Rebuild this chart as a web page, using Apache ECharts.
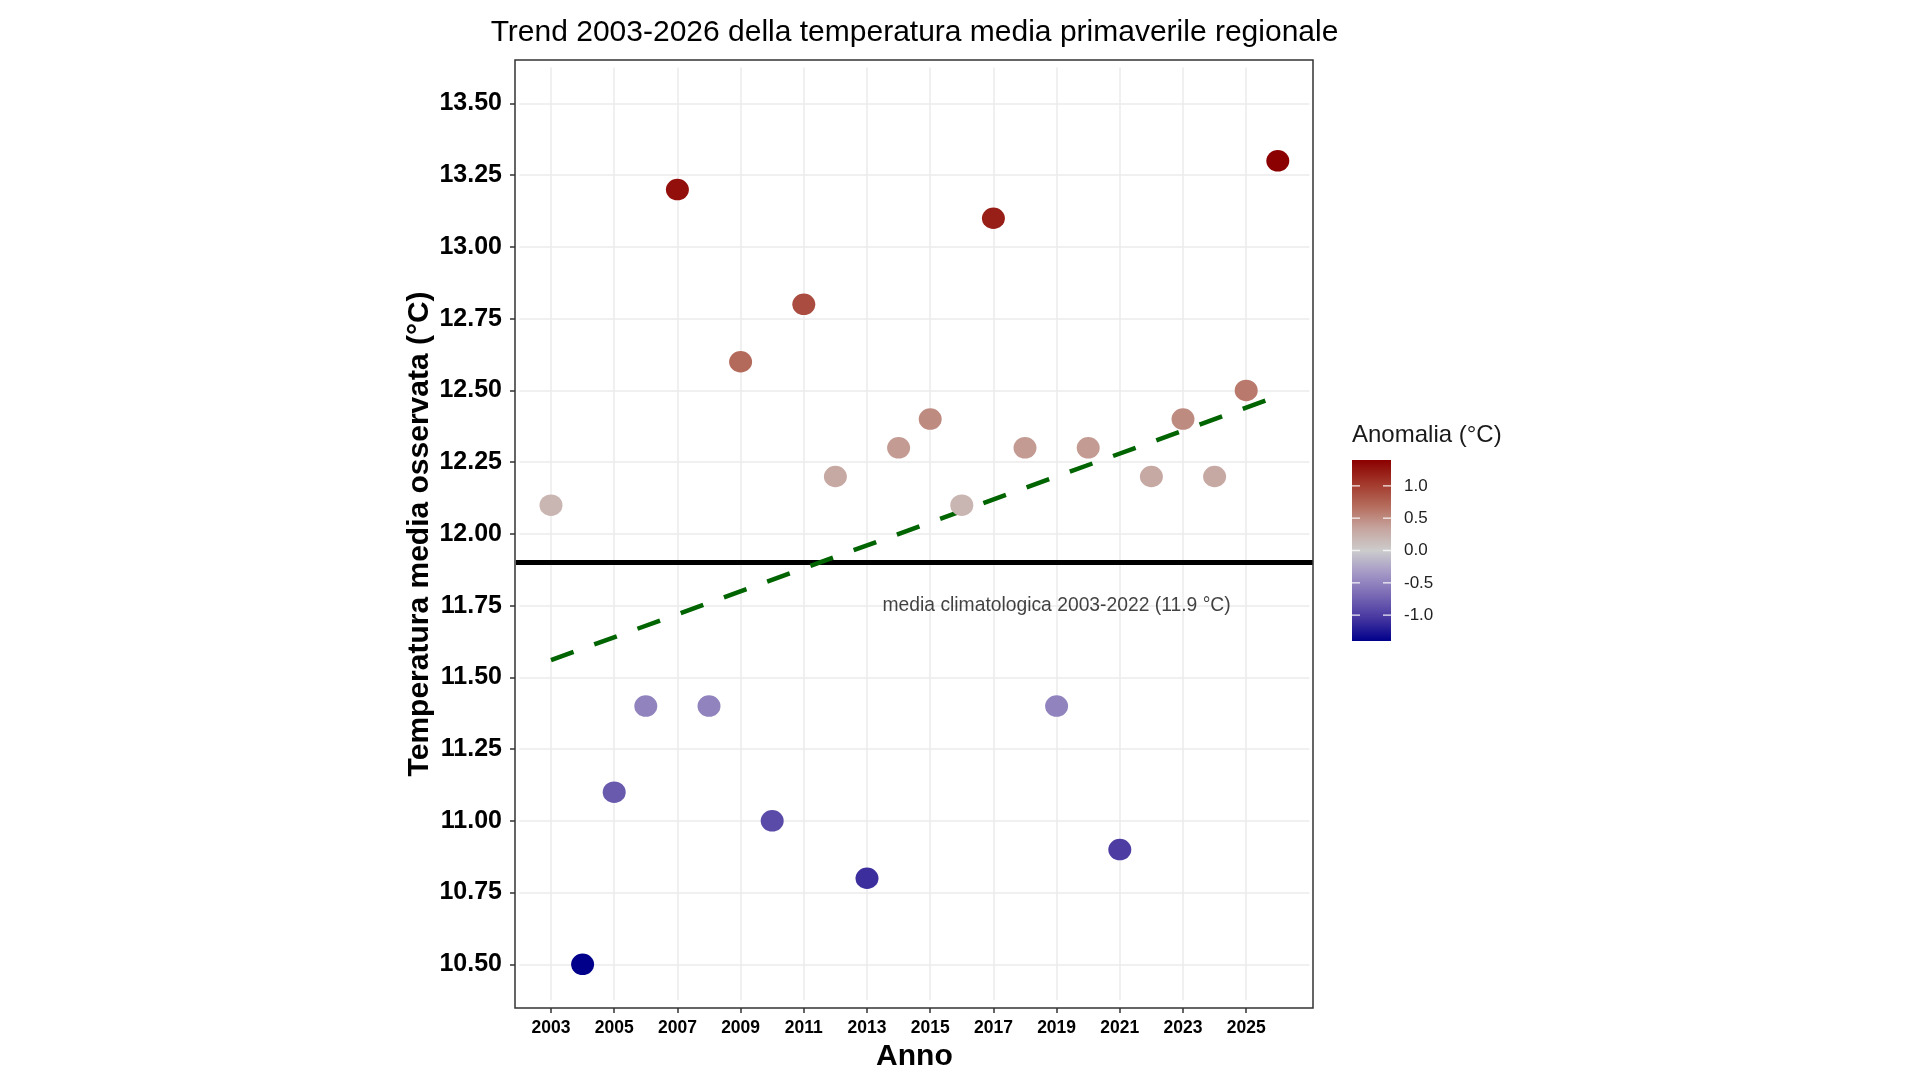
<!DOCTYPE html>
<html>
<head>
<meta charset="utf-8">
<title>Trend temperatura media primaverile regionale</title>
<script src="https://cdn.jsdelivr.net/npm/echarts@6/dist/echarts.min.js"></script>
<style>
  html, body { margin: 0; padding: 0; background: #fff; }
  #chart { width: 1920px; height: 1080px; }
</style>
</head>
<body>
<div id="chart"></div>
<script>
// dati
const anni = [2003, 2004, 2005, 2006, 2007, 2008, 2009, 2010, 2011, 2012, 2013, 2014,
              2015, 2016, 2017, 2018, 2019, 2020, 2021, 2022, 2023, 2024, 2025, 2026];
const tempMedia = [12.1, 10.5, 11.1, 11.4, 13.2, 11.4, 12.6, 11.0, 12.8, 12.2, 10.8, 12.3,
                   12.4, 12.1, 13.1, 12.3, 11.4, 12.3, 10.9, 12.2, 12.4, 12.2, 12.5, 13.3];
const climMedia = 11.9;                 // media climatologica 2003-2022
const trendAnni = [2003, 2026];         // retta di tendenza (estremi)
const trendValori = [11.56, 12.48];
const annoEtichette = [2003, 2005, 2007, 2009, 2011, 2013, 2015, 2017, 2019, 2021, 2023, 2025];
const tempEtichette = [10.5, 10.75, 11.0, 11.25, 11.5, 11.75, 12.0, 12.25, 12.5, 12.75, 13.0, 13.25, 13.5];
const legendaTicks = [1.0, 0.5, 0.0, -0.5, -1.0];
const notaPos = [2019, 11.75];
const notaTesto = 'media climatologica 2003-2022 (11.9 °C)';

const FONT = '"Liberation Sans", Arial, Helvetica, sans-serif';

// scala colori anomalia (da -1.4 a 1.4)
const anomMin = -1.4, anomMax = 1.4;
const coloriAnomalia = ['#00008b', '#4636a0', '#7868b4', '#a498c6', '#cccccc',
                        '#c6a39d', '#b46a5a', '#a2362a', '#8b0000'];

// estremi del pannello (espansione degli assi come in ggplot)
const xPanelMin = 2001.86, xPanelMax = 2027.11;

const punti = anni.map(function (a, i) {
  return [a, tempMedia[i], +(tempMedia[i] - climMedia).toFixed(2)];
});

const chart = echarts.init(document.getElementById('chart'));

// barra colori della legenda
const barX = 1352, barY = 460, barW = 39, barH = 181;
function legendaY(v) {
  return barY + (anomMax - v) / (anomMax - anomMin) * barH;
}
const stops = coloriAnomalia.slice().reverse().map(function (c, i, arr) {
  return { offset: i / (arr.length - 1), color: c };
});
const legenda = [
  {
    type: 'text', left: 1352, top: 423,
    style: { text: 'Anomalia (°C)', font: '24px ' + FONT, fill: '#1a1a1a' }
  },
  {
    type: 'rect', shape: { x: barX, y: barY, width: barW, height: barH },
    style: { fill: { type: 'linear', x: 0, y: 0, x2: 0, y2: 1, colorStops: stops } }
  }
];
legendaTicks.forEach(function (v) {
  const y = legendaY(v);
  legenda.push({
    type: 'line', shape: { x1: barX, y1: y, x2: barX + 8, y2: y },
    style: { stroke: 'rgba(255,255,255,0.75)', lineWidth: 1.5 }, z: 10
  });
  legenda.push({
    type: 'line', shape: { x1: barX + barW - 8, y1: y, x2: barX + barW, y2: y },
    style: { stroke: 'rgba(255,255,255,0.75)', lineWidth: 1.5 }, z: 10
  });
  legenda.push({
    type: 'text', x: 1404, y: y,
    style: { text: v.toFixed(1), font: '17px ' + FONT, fill: '#222', textVerticalAlign: 'middle' }
  });
});

const option = {
  animation: false,
  backgroundColor: '#ffffff',
  grid: { left: 519.4, right: 610.6, top: 67.6, bottom: 79.8 },
  visualMap: {
    show: false,
    type: 'continuous',
    seriesIndex: 0,
    dimension: 2,
    min: anomMin,
    max: anomMax,
    inRange: { color: coloriAnomalia }
  },
  xAxis: {
    type: 'value',
    min: 2002,
    max: 2027,
    interval: 1,
    offset: 7.8,
    name: 'Anno',
    nameLocation: 'middle',
    nameGap: 24,
    nameTextStyle: { fontFamily: FONT, fontSize: 30, fontWeight: 'bold', color: '#000' },
    axisLine: { show: false },
    axisTick: { show: true, length: 5, customValues: annoEtichette, lineStyle: { color: '#333', width: 1.5 } },
    axisLabel: {
      customValues: annoEtichette,
      margin: 11,
      formatter: function (v) { return String(v); },
      fontFamily: FONT, fontSize: 17.5, fontWeight: 'bold', color: '#000'
    },
    splitLine: { show: true, lineStyle: { color: '#ebebeb', width: 1.5 } }
  },
  yAxis: {
    type: 'value',
    min: 10.375,
    max: 13.625,
    interval: 0.125,
    offset: 4.4,
    name: 'Temperatura media osservata (°C)',
    nameLocation: 'middle',
    nameRotate: 90,
    nameGap: 80,
    nameTextStyle: { fontFamily: FONT, fontSize: 30, fontWeight: 'bold', color: '#000' },
    axisLine: { show: false },
    axisTick: { show: true, length: 5, customValues: tempEtichette, lineStyle: { color: '#333', width: 1.5 } },
    axisLabel: {
      customValues: tempEtichette,
      margin: 13,
      formatter: function (v) { return v.toFixed(2); },
      fontFamily: FONT, fontSize: 25, fontWeight: 'bold', color: '#000'
    },
    splitLine: { show: true, lineStyle: { color: '#ebebeb', width: 1.5 } }
  },
  graphic: [
    {
      type: 'text', x: 914.5, y: 33,
      style: {
        text: 'Trend 2003-2026 della temperatura media primaverile regionale',
        font: '30px ' + FONT, fill: '#000', textAlign: 'center', textVerticalAlign: 'middle'
      }
    },
    // bordo del pannello
    {
      type: 'rect', shape: { x: 515, y: 60, width: 798, height: 948 },
      style: { fill: null, stroke: '#333', lineWidth: 1.5 }, z: 100
    }
  ].concat(legenda),
  series: [
    {
      name: 'Temperatura',
      type: 'scatter',
      data: punti,
      symbolSize: [23, 21.5],
      itemStyle: { opacity: 1 },
      z: 5
    },
    {
      name: 'Media climatologica',
      type: 'line',
      data: [[xPanelMin, climMedia], [xPanelMax, climMedia]],
      clip: false,
      symbol: 'none',
      silent: true,
      lineStyle: { color: '#000', width: 5 },
      z: 3
    },
    {
      name: 'Trend',
      type: 'line',
      data: trendAnni.map(function (a, i) { return [a, trendValori[i]]; }),
      symbol: 'none',
      silent: true,
      lineStyle: { color: '#006400', width: 4.5, type: [24, 22] },
      z: 4
    },
    {
      name: 'Nota',
      type: 'scatter',
      data: [notaPos],
      symbolSize: 1,
      silent: true,
      itemStyle: { color: 'transparent' },
      label: {
        show: true,
        position: 'inside',
        formatter: notaTesto,
        fontFamily: FONT,
        fontSize: 19.3,
        color: '#111'
      },
      z: 6
    }
  ]
};

chart.setOption(option);
</script>
</body>
</html>
